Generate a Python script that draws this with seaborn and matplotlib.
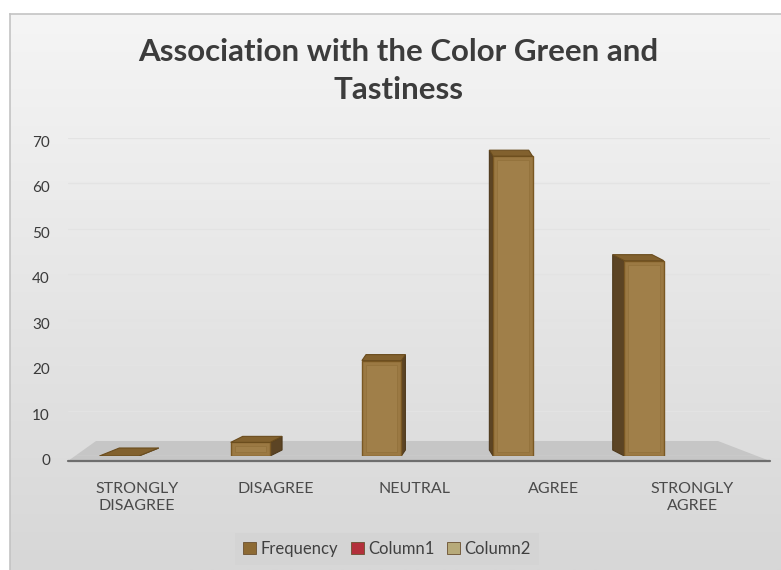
import numpy as np
import pandas as pd
import matplotlib
matplotlib.use("Agg")
import matplotlib.pyplot as plt
import matplotlib.transforms as mtransforms
from matplotlib.patches import Polygon, Patch
from matplotlib.colors import LinearSegmentedColormap
import seaborn as sns

# ---- data ----
categories = ["STRONGLY\nDISAGREE", "DISAGREE", "NEUTRAL", "AGREE", "STRONGLY\nAGREE"]
frequency = [0, 3, 21, 66, 43]
y_ticks = [0, 10, 20, 30, 40, 50, 60, 70]
title = "Association with the Color Green and\nTastiness"
legend_labels = ["Frequency", "Column1", "Column2"]
legend_colors = ["#8d6a34", "#b3303b", "#b7aa7a"]

sns.set_style("white")
plt.rcParams["font.family"] = ["Lato", "DejaVu Sans"]

W, H = 781, 570
fig = plt.figure(figsize=(W / 100, H / 100), dpi=100)
fig.patch.set_facecolor("white")

# background panel with gradient
bg = fig.add_axes([10 / W, 0, 1 - 10 / W, 1 - 14 / H])
grad = np.linspace(0, 1, 256).reshape(-1, 1)
cmap = LinearSegmentedColormap.from_list("bg", ["#f5f5f5", "#d7d7d7"])
bg.imshow(grad, aspect="auto", cmap=cmap, extent=[0, 1, 0, 1], origin="upper")
bg.set_xticks([]); bg.set_yticks([])
for s in bg.spines.values():
    s.set_color("#c3c3c3"); s.set_linewidth(1.2)
bg.spines["right"].set_visible(False)
bg.spines["bottom"].set_visible(False)
bg.set_zorder(0)

# main axes: 0 at y=456px, 70 at y=138px
ax = fig.add_axes([68 / W, (H - 456) / H, 702 / W, 318 / H])
ax.patch.set_alpha(0)

df = pd.DataFrame({"cat": categories, "freq": frequency})
sns.barplot(data=df, x="cat", y="freq", order=categories, color="#9b7943",
            width=0.3, saturation=1, edgecolor="#7a5823", linewidth=1, ax=ax, zorder=3)

ax.set_xlim(-0.39, 4.96)
ax.set_ylim(0, 70)
ax.set_yticks(y_ticks)
ax.set_xlabel(""); ax.set_ylabel("")
for s in ax.spines.values():
    s.set_visible(False)
ax.tick_params(axis="both", length=0)
ax.tick_params(axis="y", pad=13, labelsize=11, labelcolor="#3a3a3a")
ax.tick_params(axis="x", pad=19, labelsize=11.5, labelcolor="#4a4a4a")
ax.yaxis.grid(True, color="#e3e3e3", linewidth=0.9, zorder=0)
ax.set_axisbelow(True)

# shift tick labels slightly (perspective offset)
for lab in ax.get_yticklabels():
    lab.set_transform(lab.get_transform() + mtransforms.ScaledTranslation(0, -0.035, fig.dpi_scale_trans))
for i, lab in enumerate(ax.get_xticklabels()):
    lab.set_transform(lab.get_transform() + mtransforms.ScaledTranslation(0.18 + 0.075 * i, 0, fig.dpi_scale_trans))
    lab.set_linespacing(1.2)

# floor (pixel coords -> figure fraction)
def px(x, y):
    return (x / W, (H - y) / H)

floor = Polygon([px(68, 461), px(770, 461), px(718, 441), px(96, 441)], closed=True,
                transform=fig.transFigure, facecolor="#c6c6c6", edgecolor="none", zorder=1.5)
fig.add_artist(floor)
fig.add_artist(plt.Line2D([68 / W, 770 / W], [(H - 461) / H] * 2, transform=fig.transFigure,
                          color="#6e6e6e", linewidth=1.6, zorder=1.6))
ax.set_zorder(2)

# 3D faces derived from bar patches
fig.canvas.draw()
for p in ax.patches:
    x0, y0 = p.get_x(), p.get_y()
    w, h = p.get_width(), p.get_height()
    (dx0, dy0) = ax.transData.transform((x0, y0))
    (dx1, dy1) = ax.transData.transform((x0 + w, y0 + h))
    cx = (dx0 + dx1) / 2
    ddx = (450 - cx) * 0.06
    ddy = 6 if h > 0 else 8
    top = Polygon([(dx0, dy1), (dx1, dy1), (dx1 + ddx, dy1 + ddy), (dx0 + ddx, dy1 + ddy)],
                  closed=True, transform=None, facecolor="#82612e", edgecolor="#6a4c1d",
                  linewidth=0.8, zorder=4)
    if ddx > 0:
        side = [(dx1, dy0), (dx1, dy1), (dx1 + ddx, dy1 + ddy), (dx1 + ddx, dy0 + ddy)]
    else:
        side = [(dx0, dy0), (dx0, dy1), (dx0 + ddx, dy1 + ddy), (dx0 + ddx, dy0 + ddy)]
    sidep = Polygon(side, closed=True, transform=None, facecolor="#5c4424",
                    edgecolor="#4e391c", linewidth=0.8, zorder=2.5)
    ax.add_artist(sidep)
    ax.add_artist(top)
    if h > 0:
        inset = 4
        ax.add_artist(Polygon([(dx0 + inset, dy0 + inset), (dx1 - inset, dy0 + inset),
                               (dx1 - inset, dy1 - inset), (dx0 + inset, dy1 - inset)],
                              closed=True, transform=None, facecolor="#a07f49",
                              edgecolor="#93723c", linewidth=0.6, zorder=3.5))

# title
fig.text(398 / W, 1 - 38 / H, title, ha="center", va="top", fontsize=22.5,
         fontweight="bold", color="#3c3c3c", linespacing=1.45)

# legend
handles = [Patch(facecolor=c, edgecolor="#6a5030", linewidth=0.6) for c in legend_colors]
leg = fig.legend(handles, legend_labels, loc="center", bbox_to_anchor=(387 / W, 1 - 549 / H),
                 ncol=3, frameon=True, fontsize=12, handlelength=0.75, handleheight=0.75,
                 handletextpad=0.25, columnspacing=0.8, borderpad=0.5, fancybox=False)
leg.get_frame().set_facecolor("#d4d4d4")
leg.get_frame().set_edgecolor("none")
for t in leg.get_texts():
    t.set_color("#404040")

fig.savefig("out.png", dpi=100)
